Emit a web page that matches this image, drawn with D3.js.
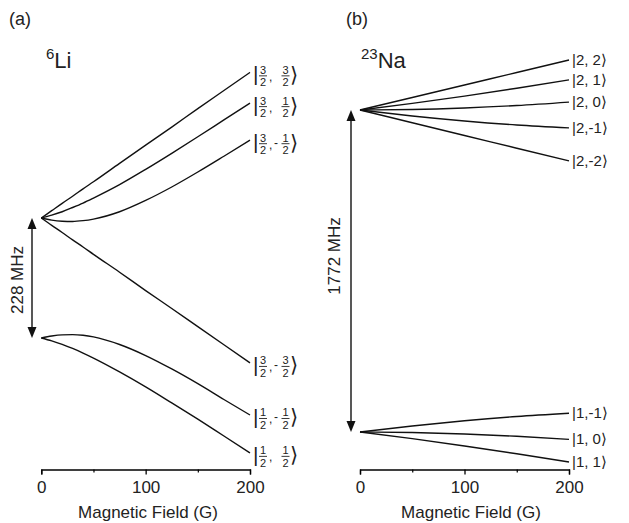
<!DOCTYPE html>
<html>
<head>
<meta charset="utf-8">
<script src="https://cdn.jsdelivr.net/npm/d3@7"></script>
<style>
  body { margin: 0; background: #fff; }
  svg { font-family: "Liberation Sans", Arial, sans-serif; }
</style>
</head>
<body>
<svg id="chart" width="629" height="523"></svg>
<script>
// field values (G)
const fieldLi = [0, 10, 20, 30, 40, 50, 75, 100, 125, 150, 175, 200];
const fieldNa = [0, 50, 100, 150, 200];

// 6Li levels (MHz)
const li_32_32  = [76, 90, 104, 117.5, 131.5, 145, 180, 214.5, 249, 284, 318.5, 353];
const li_32_12  = [76, 81.5, 88, 96, 104.5, 114, 139.5, 168.5, 199, 230.5, 262.5, 294.5];
const li_32_m12 = [76, 72, 70, 69.5, 71, 74, 88, 109.5, 135, 163.5, 193.5, 224];
const li_32_m32 = [76, 62, 48.5, 34.5, 21, 7, -27, -62, -96, -130.5, -165, -199.5];
const li_12_m12 = [-152, -148.3, -146.1, -145.7, -147, -150, -164.5, -185.5, -211, -239, -269, -298.5];
const li_12_12  = [-152, -157.5, -164.2, -172, -180.7, -190.2, -216.5, -245, -275.5, -306.5, -338.5, -370.5];
const liLevels = [li_32_32, li_32_12, li_32_m12, li_32_m32, li_12_m12, li_12_12];
const liF = [[3, 2], [3, 2], [3, 2], [3, 2], [1, 2], [1, 2]];
const liM = [[3, 2, ''], [1, 2, ''], [1, 2, '-'], [3, 2, '-'], [1, 2, '-'], [1, 2, '']];
const liSplit = [-152.1, 76.07];

// 23Na levels (MHz)
const na_22  = [664.4, 733, 802, 870.5, 939.5];
const na_21  = [664.4, 701, 741, 784, 830];
const na_20  = [664.4, 667, 675.5, 689, 708];
const na_2m1 = [664.4, 631.5, 604, 582, 566];
const na_2m2 = [664.4, 594.3, 524.2, 454.2, 384.1];
const na_1m1 = [-1107.3, -1074, -1045.5, -1022, -1004];
const na_10  = [-1107.3, -1110, -1118, -1131, -1148];
const na_11  = [-1107.3, -1144, -1184, -1227, -1272];
const naLevels = [na_22, na_21, na_20, na_2m1, na_2m2, na_1m1, na_10, na_11];
const naLabels = ['|2, 2\u27E9', '|2, 1\u27E9', '|2, 0\u27E9', '|2,-1\u27E9', '|2,-2\u27E9',
                  '|1,-1\u27E9', '|1, 0\u27E9', '|1, 1\u27E9'];
const naSplit = [-1107.3, 664.4];

const majorTicks = [0, 100, 200];
const minorTicks = [50, 150];

const svg = d3.select('#chart');

function panel(opt) {
  const g = svg.append('g');
  const x = d3.scaleLinear().domain([0, 200]).range(opt.xRange);
  const y = d3.scaleLinear().domain(opt.split).range(opt.yRange);

  const line = d3.line()
    .x((d, i) => x(opt.field[i]))
    .y(d => y(d))
    .curve(d3.curveMonotoneX);

  g.selectAll('path.level')
    .data(opt.levels)
    .join('path')
    .attr('class', 'level')
    .attr('d', d => line(d))
    .attr('fill', 'none')
    .attr('stroke', '#111')
    .attr('stroke-width', 1.4);

  // axis
  const axY = 469.5;
  const ax = g.append('g').attr('transform', 'translate(0,' + axY + ')')
    .call(d3.axisBottom(x).tickValues(majorTicks).tickSizeOuter(0).tickSize(5).tickPadding(6));
  ax.select('.domain').attr('stroke-width', 1.3);
  ax.selectAll('.tick line').attr('stroke-width', 1.3);
  ax.selectAll('.tick text').attr('font-size', 17).attr('font-family', null).attr('fill', '#222');
  const axm = g.append('g').attr('transform', 'translate(0,' + axY + ')')
    .call(d3.axisBottom(x).tickValues(minorTicks).tickSize(3).tickFormat(''));
  axm.select('.domain').remove();
  axm.selectAll('.tick line').attr('stroke-width', 1.2);

  g.append('text')
    .attr('x', opt.titleX).attr('y', 518)
    .attr('text-anchor', 'middle').attr('font-size', 17).attr('fill', '#222')
    .text('Magnetic Field (G)');

  // hyperfine splitting arrow
  const ax0 = opt.arrowX, yTop = y(opt.split[1]), yBot = y(opt.split[0]);
  g.append('line')
    .attr('x1', ax0).attr('x2', ax0)
    .attr('y1', yTop + 8).attr('y2', yBot - 8)
    .attr('stroke', '#111').attr('stroke-width', 1.4);
  g.append('path')
    .attr('d', `M${ax0},${yTop} L${ax0 - 4.5},${yTop + 11} L${ax0 + 4.5},${yTop + 11} Z`)
    .attr('fill', '#111');
  g.append('path')
    .attr('d', `M${ax0},${yBot} L${ax0 - 4.5},${yBot - 11} L${ax0 + 4.5},${yBot - 11} Z`)
    .attr('fill', '#111');
  g.append('text')
    .attr('transform', `translate(${opt.splitLabelX},${opt.splitLabelY}) rotate(-90)`)
    .attr('text-anchor', 'middle').attr('font-size', 17).attr('fill', '#222')
    .text(opt.splitLabel);

  // panel letter and element
  g.append('text').attr('x', opt.letterX).attr('y', 25)
    .attr('font-size', 18).attr('fill', '#222').text(opt.letter);
  const el = g.append('text').attr('x', opt.elX).attr('y', 68).attr('fill', '#222');
  el.append('tspan').attr('font-size', 15).attr('dy', -9).text(opt.elMass);
  el.append('tspan').attr('font-size', 22).attr('dy', 9).text(opt.elName);

  return {g: g, x: x, y: y};
}

const a = panel({
  xRange: [41.3, 250], yRange: [338, 218], split: liSplit,
  field: fieldLi, levels: liLevels,
  titleX: 148, arrowX: 32, splitLabel: '228 MHz', splitLabelX: 23, splitLabelY: 280,
  letter: '(a)', letterX: 9, elX: 46, elMass: '6', elName: 'Li'
});

const b = panel({
  xRange: [360, 569], yRange: [432, 110], split: naSplit,
  field: fieldNa, levels: naLevels,
  titleX: 471, arrowX: 351, splitLabel: '1772 MHz', splitLabelX: 340, splitLabelY: 256,
  letter: '(b)', letterX: 346, elX: 361, elMass: '23', elName: 'Na'
});

// Li kets with stacked fractions
function fraction(g, cx, cy, num, den) {
  g.append('text').attr('x', cx).attr('y', cy - 2).attr('text-anchor', 'middle')
    .attr('font-size', 11).attr('fill', '#222').text(num);
  g.append('line').attr('x1', cx - 4).attr('x2', cx + 4).attr('y1', cy).attr('y2', cy)
    .attr('stroke', '#222').attr('stroke-width', 0.9);
  g.append('text').attr('x', cx).attr('y', cy + 10.5).attr('text-anchor', 'middle')
    .attr('font-size', 11).attr('fill', '#222').text(den);
}

liLevels.forEach(function (lv, i) {
  const x0 = a.x(200) + 3, cy = a.y(lv[lv.length - 1]) + 3.5;
  const k = a.g.append('g');
  k.append('text').attr('x', x0).attr('y', cy + 5.5).attr('font-size', 21)
    .attr('fill', '#222').text('|');
  fraction(k, x0 + 10, cy, liF[i][0], liF[i][1]);
  k.append('text').attr('x', x0 + 16).attr('y', cy + 5).attr('font-size', 12)
    .attr('fill', '#222').text(',');
  if (liM[i][2]) {
    k.append('text').attr('x', x0 + 21).attr('y', cy + 3).attr('font-size', 12)
      .attr('fill', '#222').text('-');
  }
  fraction(k, x0 + 32.5, cy, liM[i][0], liM[i][1]);
  k.append('text').attr('x', x0 + 37).attr('y', cy + 6).attr('font-size', 21)
    .attr('fill', '#222').text('\u27E9');
});

naLevels.forEach(function (lv, i) {
  b.g.append('text')
    .attr('x', b.x(200) + 3).attr('y', b.y(lv[lv.length - 1]) + 5)
    .attr('font-size', 15).attr('fill', '#222')
    .text(naLabels[i]);
});
</script>
</body>
</html>
